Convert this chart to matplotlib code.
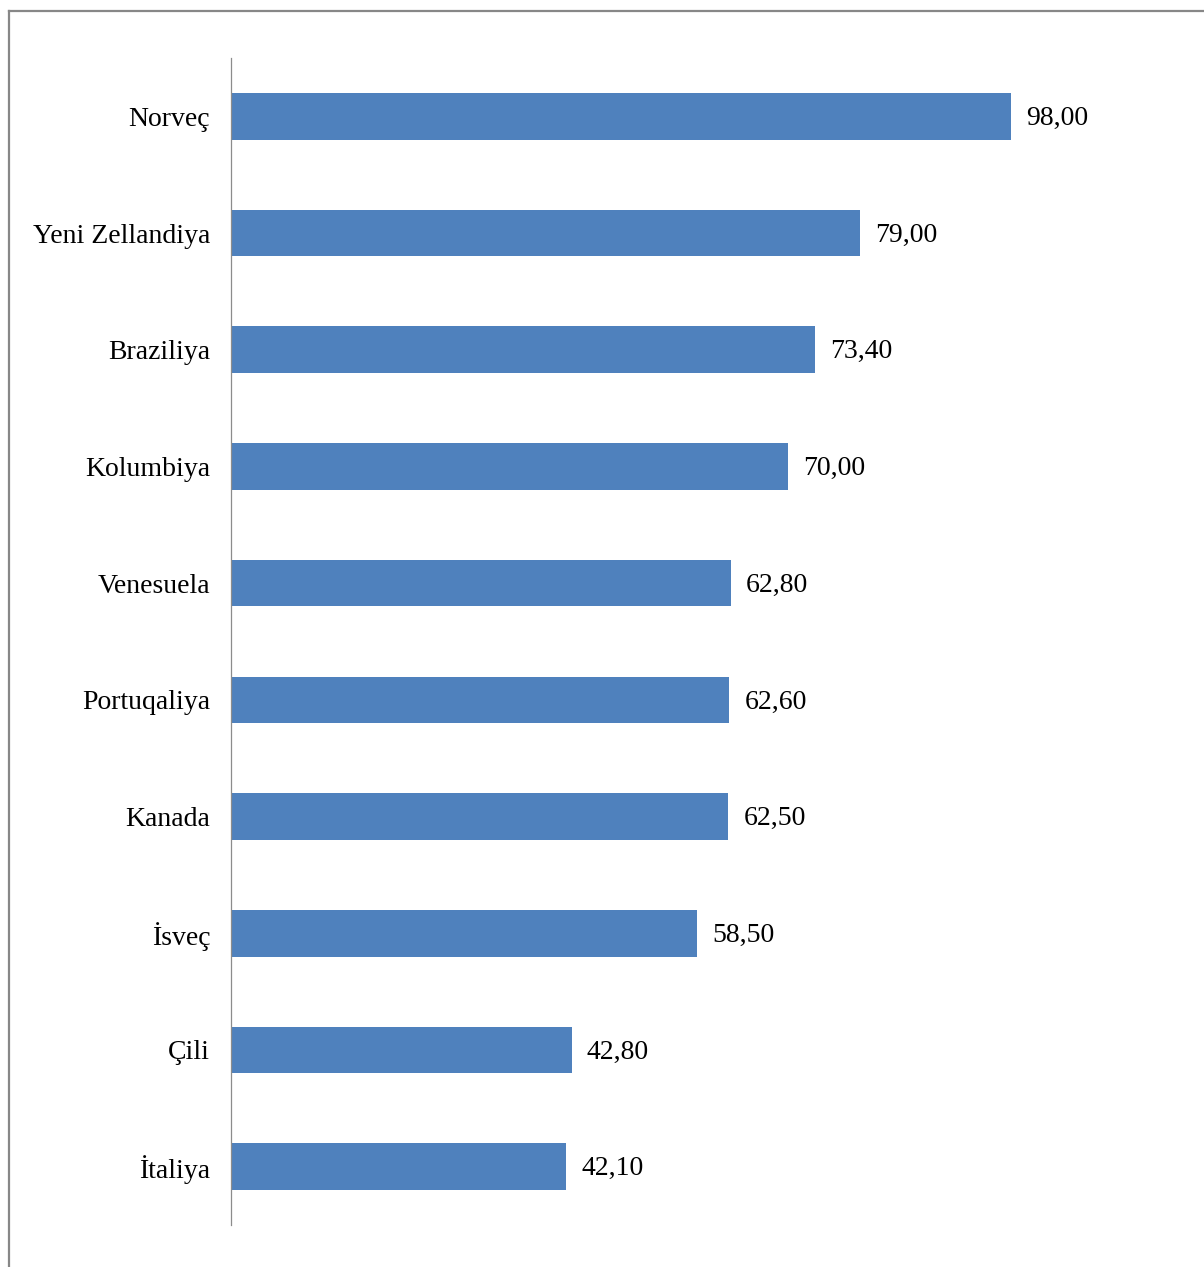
import matplotlib.pyplot as plt
from matplotlib.lines import Line2D

# veriler (yuxaridan asagiya)
olkeler = ['Norveç', 'Yeni Zellandiya', 'Braziliya', 'Kolumbiya', 'Venesuela',
           'Portuqaliya', 'Kanada', 'İsveç', 'Çili', 'İtaliya']
deyerler = [98.00, 79.00, 73.40, 70.00, 62.80, 62.60, 62.50, 58.50, 42.80, 42.10]

W, H = 1204, 1267
fig = plt.figure(figsize=(W / 100, H / 100), dpi=100)
fig.patch.set_facecolor('white')

# cercive (yalniz ust ve sol xett gorunur)
fig.add_artist(Line2D([8.5 / W, 1.0], [1 - 10.5 / H, 1 - 10.5 / H],
                      color='#878787', lw=1.6, transform=fig.transFigure))
fig.add_artist(Line2D([8.5 / W, 8.5 / W], [0.0, 1 - 10.5 / H],
                      color='#878787', lw=1.6, transform=fig.transFigure))

ax = fig.add_axes([231 / W, 42 / H, 955 / W, (1225 - 58) / H])

y = list(range(len(olkeler)))
ax.barh(y, deyerler, height=0.4, color='#4F81BD')
ax.set_ylim(len(olkeler) - 0.5, -0.5)
ax.set_xlim(0, 120)

ax.set_yticks(y)
ax.set_yticklabels(olkeler, fontfamily='Liberation Serif', fontsize=20)
ax.tick_params(axis='y', length=0, pad=15)
for lbl in ax.get_yticklabels():
    lbl.set_y(lbl.get_position()[1])
ax.set_xticks([])

for s in ['top', 'right', 'bottom']:
    ax.spines[s].set_visible(False)
ax.spines['left'].set_color('#8c8c8c')
ax.spines['left'].set_linewidth(0.9)

# deyer yazilari
for yi, v in zip(y, deyerler):
    ax.annotate(f'{v:.2f}'.replace('.', ','), xy=(v, yi), xytext=(11, -1.5),
                textcoords='offset points', va='center', ha='left',
                fontfamily='Liberation Serif', fontsize=20)

fig.savefig('out.png', dpi=100)
